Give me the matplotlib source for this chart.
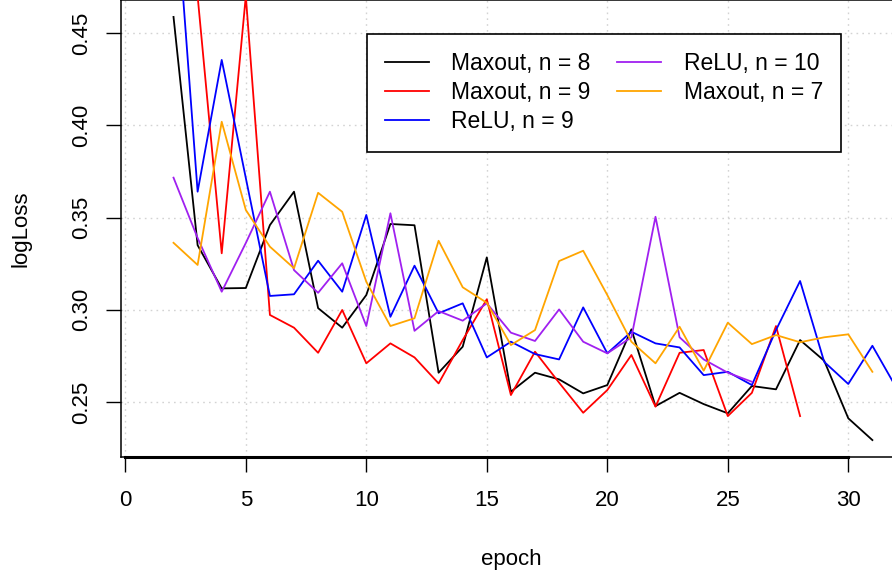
import numpy as np
import matplotlib
matplotlib.use("Agg")
import matplotlib.pyplot as plt

plt.rcParams['font.family'] = ['Liberation Sans', 'DejaVu Sans']

nan = np.nan
epochs = np.arange(1, 33)

maxout_n8 = [nan, 0.4587, 0.335, 0.3116, 0.3118, 0.3459, 0.364, 0.3009, 0.2903, 0.308,
             0.3465, 0.3458, 0.2659, 0.280, 0.3284, 0.2556, 0.2659, 0.2623, 0.2547, 0.2592,
             0.2894, 0.2478, 0.255, 0.2489, 0.2439, 0.2587, 0.2569, 0.2836, 0.2724, 0.2412,
             0.2294, nan]
maxout_n9 = [nan, 0.50, 0.470, 0.3306, 0.470, 0.2972, 0.2903, 0.2767, 0.2999, 0.271,
             0.2818, 0.2742, 0.2601, 0.2836, 0.3057, 0.2538, 0.2773, 0.2605, 0.2442, 0.2565,
             0.2755, 0.2475, 0.2767, 0.2782, 0.2424, 0.255, 0.2912, 0.2424, nan, nan,
             nan, nan]
relu_n9 = [nan, 0.539, 0.364, 0.4354, 0.3714, 0.3075, 0.3084, 0.3266, 0.3098, 0.3514,
           0.2962, 0.3239, 0.2981, 0.3035, 0.2742, 0.2827, 0.276, 0.2731, 0.3013, 0.2764,
           0.2881, 0.2818, 0.2796, 0.2646, 0.2664, 0.2592, 0.289, 0.3156, 0.2718, 0.2598,
           0.2805, 0.2576]
relu_n10 = [nan, 0.3716, 0.3389, 0.3098, 0.3362, 0.364, 0.3215, 0.3092, 0.3252, 0.2912,
            0.3523, 0.2886, 0.2993, 0.2941, 0.3035, 0.2876, 0.2831, 0.3002, 0.2827, 0.2764,
            0.2851, 0.3504, 0.2851, 0.2731, 0.2659, 0.261, nan, nan, nan, nan,
            nan, nan]
maxout_n7 = [nan, 0.3363, 0.3243, 0.4019, 0.3541, 0.3342, 0.3225, 0.3634, 0.3531, 0.3152,
             0.2912, 0.2954, 0.3374, 0.3122, 0.3038, 0.2809, 0.289, 0.3264, 0.332, 0.308,
             0.2827, 0.271, 0.2908, 0.267, 0.293, 0.2814, 0.2863, 0.2824, 0.2851, 0.2867,
             0.2664, nan]

series = [
    ("Maxout, n = 8", maxout_n8, "black"),
    ("Maxout, n = 9", maxout_n9, "#FF0000"),
    ("ReLU, n = 9", relu_n9, "#0000FF"),
    ("ReLU, n = 10", relu_n10, "#A020F0"),
    ("Maxout, n = 7", maxout_n7, "#FFA500"),
]

x_ticks = [0, 5, 10, 15, 20, 25, 30]
y_ticks = [0.25, 0.30, 0.35, 0.40, 0.45]

W, H = 892, 575
fig = plt.figure(figsize=(W / 100, H / 100), dpi=100)
ax_left, ax_right, ax_bottom, ax_top = 120.5, 901.3, 457.0, 0.0
ax = fig.add_axes([ax_left / W, (H - ax_bottom) / H,
                   (ax_right - ax_left) / W, (ax_bottom - ax_top) / H])

# axis range follows the first series, padded by 4% like R
ref = np.array(maxout_n8, dtype=float)
lo, hi = np.nanmin(ref), np.nanmax(ref)
pad = 0.04 * (hi - lo)
ylo, yhi = lo - pad, hi + pad
ax.set_xlim(1 - 0.04 * 30, 31 + 0.04 * 30)
ax.set_ylim(ylo, yhi)

ax.grid(True, color='#D3D3D3', linestyle=(0, (1.2, 3)), linewidth=1.0, zorder=0)
ax.set_axisbelow(True)

handles = []
for label, vals, col in series:
    h, = ax.plot(epochs, vals, color=col, lw=1.3, label=label, zorder=3)
    handles.append(h)

ax.set_xticks(x_ticks)
ax.set_xticklabels([str(t) for t in x_ticks])
ax.set_yticks(y_ticks)
ax.set_yticklabels([f"{t:.2f}" for t in y_ticks])
ax.tick_params(axis='both', direction='out', length=10.5, width=1.0,
               labelsize=16, colors='black')
ax.tick_params(axis='x', pad=13)
ax.tick_params(axis='y', pad=10, labelrotation=90)
for lbl in ax.get_yticklabels():
    lbl.set_va('center')

for sp in ax.spines.values():
    sp.set_linewidth(1.1)
    sp.set_color('black')

# axis line drawn over the box between the first and last tick
x0, x1 = ax.get_xlim()
ax.axhline(ylo, xmin=(0 - x0) / (x1 - x0), xmax=(30 - x0) / (x1 - x0),
           color='black', lw=2.2, clip_on=False, zorder=5)

ax.set_xlabel('epoch', fontsize=16)
ax.xaxis.label.set_va('baseline')
ax.xaxis.set_label_coords(0.5, (10 - (H - ax_bottom)) / (ax_bottom - ax_top))
ax.set_ylabel('logLoss', fontsize=16)
ax.yaxis.label.set_va('center')
ax.yaxis.set_label_coords((21 - ax_left) / (ax_right - ax_left), 0.5)

leg = ax.legend(handles=handles, ncol=2, loc='upper left',
                bbox_to_anchor=(366.7 / W, 1 - 34 / H), bbox_transform=fig.transFigure,
                borderaxespad=0, frameon=True, fancybox=False, edgecolor='black',
                framealpha=1, fontsize=16.5, handlelength=1.9, handletextpad=1.0,
                columnspacing=1.15, borderpad=0.8, labelspacing=0.26)
leg.get_frame().set_linewidth(1.2)
leg.set_zorder(6)

fig.savefig("out.png", dpi=100)
